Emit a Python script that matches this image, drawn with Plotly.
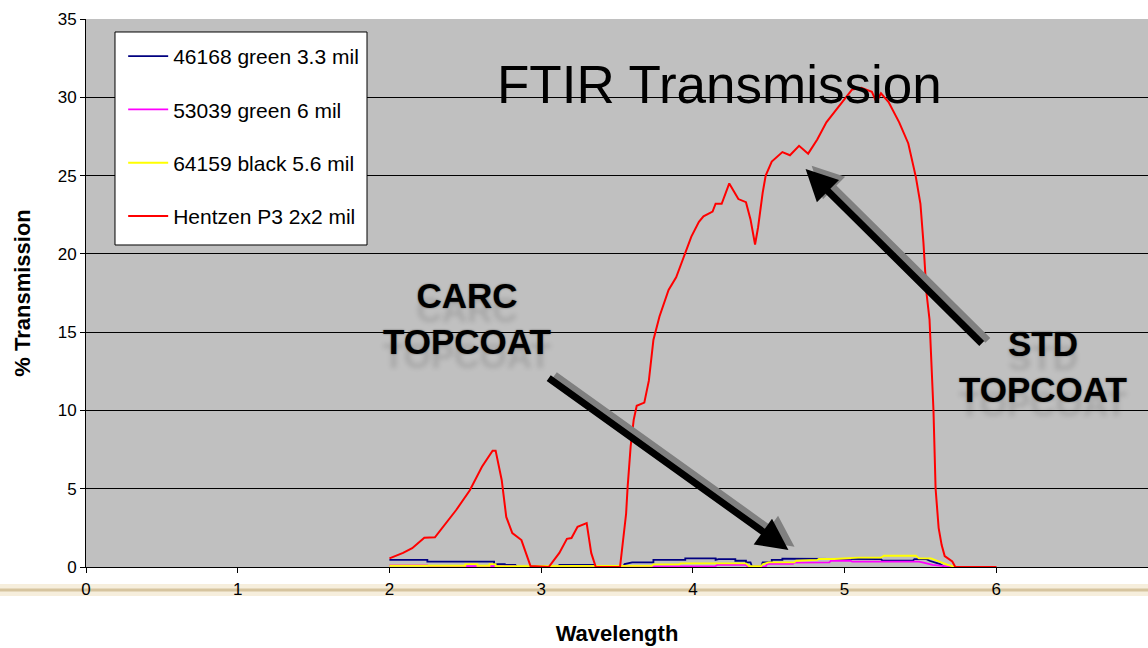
import plotly.graph_objects as go

# ---------------- data ----------------
series_names = ["46168 green 3.3 mil", "53039 green 6 mil", "64159 black 5.6 mil", "Hentzen P3 2x2 mil"]
series_colors = ["#000080", "#FF00FF", "#FFFF00", "#FF0000"]

blue_x = [2.00, 2.25, 2.25, 2.69, 2.69, 2.76, 2.76, 2.83, 2.84, 3.11, 3.12, 3.35, 3.36, 3.54, 3.55, 3.60,
          3.74, 3.74, 3.95, 3.95, 4.15, 4.15, 4.17, 4.28, 4.28, 4.35, 4.35, 4.38, 4.39, 4.45, 4.46, 4.52,
          4.52, 4.59, 4.59, 5.04, 5.05, 5.24, 5.25, 5.45, 5.46, 5.54, 5.56, 5.60, 5.63, 5.66, 6.00]
blue_y = [0.45, 0.45, 0.34, 0.34, 0.19, 0.19, 0.13, 0.13, 0.0, 0.0, 0.13, 0.13, 0.0, 0.0, 0.19, 0.30,
          0.30, 0.45, 0.45, 0.55, 0.55, 0.45, 0.50, 0.50, 0.40, 0.40, 0.30, 0.30, 0.02, 0.02, 0.30, 0.30,
          0.45, 0.45, 0.53, 0.53, 0.50, 0.50, 0.40, 0.40, 0.50, 0.50, 0.40, 0.30, 0.19, 0.0, 0.0]

mag_x = [2.00, 2.25, 2.26, 2.83, 2.84, 3.60, 3.71, 3.72, 4.15, 4.16, 4.35, 4.36, 4.48, 4.49, 4.66,
         4.67, 4.90, 4.91, 5.04, 5.05, 5.49, 5.52, 5.58, 5.66, 5.70, 6.00]
mag_y = [0.10, 0.10, 0.05, 0.05, 0.0, 0.02, 0.02, 0.06, 0.06, 0.13, 0.13, 0.03, 0.03, 0.20, 0.20,
         0.28, 0.30, 0.40, 0.40, 0.34, 0.34, 0.28, 0.13, 0.06, 0.0, 0.0]

yel_x = [2.00, 2.50, 2.50, 2.58, 2.58, 2.66, 2.66, 2.70, 2.70, 3.60, 3.73, 3.74, 3.91, 3.92, 4.35,
         4.37, 4.45, 4.46, 4.50, 4.67, 4.68, 4.82, 4.83, 4.93, 5.09, 5.24, 5.26, 5.47, 5.49, 5.57,
         5.62, 5.68, 5.73, 6.00]
yel_y = [0.08, 0.08, 0.18, 0.18, 0.08, 0.08, 0.18, 0.18, 0.06, 0.06, 0.08, 0.17, 0.17, 0.23, 0.23,
         0.05, 0.05, 0.17, 0.30, 0.30, 0.40, 0.45, 0.51, 0.51, 0.60, 0.60, 0.72, 0.72, 0.55, 0.55,
         0.34, 0.13, 0.0, 0.0]

red_x = [2.00, 2.09, 2.15, 2.23, 2.30, 2.34, 2.44, 2.53, 2.61, 2.68, 2.70, 2.74, 2.77, 2.81, 2.87,
         2.90, 2.93, 3.05, 3.12, 3.17, 3.20, 3.24, 3.29, 3.30, 3.33, 3.36, 3.52, 3.54, 3.56, 3.57,
         3.59, 3.61, 3.63, 3.68, 3.71, 3.74, 3.78, 3.84, 3.89, 3.94, 3.99, 4.04, 4.07, 4.13, 4.15,
         4.19, 4.24, 4.27, 4.30, 4.35, 4.38, 4.41, 4.43, 4.46, 4.48, 4.52, 4.59, 4.64, 4.70, 4.76,
         4.82, 4.88, 4.96, 5.05, 5.11, 5.18, 5.21, 5.24, 5.29, 5.36, 5.42, 5.47, 5.50, 5.52, 5.54,
         5.56, 5.586, 5.60, 5.62, 5.64, 5.66, 5.71, 5.73, 6.00]
red_y = [0.55, 0.90, 1.20, 1.87, 1.90, 2.40, 3.64, 4.90, 6.40, 7.43, 7.43, 5.56, 3.20, 2.17, 1.72,
         0.89, 0.06, 0.0, 0.90, 1.80, 1.85, 2.57, 2.80, 2.80, 0.90, 0.0, 0.0, 1.90, 3.40, 5.10,
         7.70, 9.40, 10.30, 10.50, 11.90, 14.50, 16.00, 17.70, 18.50, 19.80, 21.10, 22.05, 22.40, 22.70, 23.20,
         23.20, 24.50, 24.00, 23.50, 23.30, 22.20, 20.60, 21.70, 23.90, 25.00, 25.90, 26.50, 26.30, 26.90, 26.40,
         27.30, 28.40, 29.40, 30.50, 30.60, 30.35, 29.70, 30.25, 29.70, 28.40, 27.05, 24.90, 23.20, 20.70, 17.50,
         15.80, 10.00, 5.00, 2.50, 1.40, 0.70, 0.35, 0.0, 0.0]

x_ticks = [0, 1, 2, 3, 4, 5, 6, 7]
y_ticks = [0, 5, 10, 15, 20, 25, 30, 35]

chart_title = "FTIR Transmission"
x_title = "Wavelength"
y_title = "% Transmission"
carc_label = "CARC<br>TOPCOAT"
std_label = "STD<br>TOPCOAT"

FONT = "Arial, 'Liberation Sans', sans-serif"

fig = go.Figure()
xs = [blue_x, mag_x, yel_x, red_x]
ys = [blue_y, mag_y, yel_y, red_y]
widths = [1.8, 1.8, 1.8, 2.0]
for i in range(4):
    fig.add_trace(go.Scatter(
        x=xs[i], y=ys[i], mode="lines", name=series_names[i],
        line=dict(color=series_colors[i], width=widths[i]),
        legendgroup="g%d" % i,
    ))

# legend frame (drawn as a shape so its size matches the reference)
fig.add_shape(type="rect", xref="paper", yref="paper", x0=0.0273, x1=0.2646, y0=0.5876, y1=0.9763,
              line=dict(color="#000000", width=1), fillcolor="#FFFFFF", layer="above")

# decorative beige band behind x tick labels
fig.add_shape(type="line", xref="paper", yref="paper", x0=-0.09, x1=1.01, y0=-0.042, y1=-0.042,
              line=dict(color="#F6EEDC", width=12), layer="below")
fig.add_shape(type="line", xref="paper", yref="paper", x0=-0.09, x1=1.01, y0=-0.042, y1=-0.042,
              line=dict(color="#D6C49E", width=3), layer="below")

# title inside plot area
fig.add_annotation(text=chart_title, x=0.5965, y=0.881, xref="paper", yref="paper",
                   xanchor="center", yanchor="middle",
                   showarrow=False, font=dict(family=FONT, size=53, color="#000000"))

shadow = "0px 0px 2px rgba(0,0,0,0.5), 0px 14px 5px rgba(0,0,0,0.13)"
fig.add_annotation(text=carc_label, x=2.51, y=15.9, xref="x", yref="y", showarrow=False,
                   font=dict(family=FONT, size=35, color="#000000", weight="bold", shadow=shadow))
fig.add_annotation(text=std_label, x=6.31, y=12.8, xref="x", yref="y", showarrow=False,
                   font=dict(family=FONT, size=35, color="#000000", weight="bold", shadow=shadow))

# arrows (gray shadow, then black)
arrows = [((4.63, 1.09), (3.04, 12.13)), ((4.743, 25.42), (5.914, 14.18))]
for (hx, hy), (tx, ty) in arrows:
    fig.add_annotation(x=hx + 0.04, y=hy + 0.2, ax=tx + 0.04, ay=ty + 0.2, xref="x", yref="y",
                       axref="x", ayref="y", text="", showarrow=True, arrowhead=2,
                       arrowsize=0.9, arrowwidth=7, arrowcolor="#808080")
    fig.add_annotation(x=hx, y=hy, ax=tx, ay=ty, xref="x", yref="y",
                       axref="x", ayref="y", text="", showarrow=True, arrowhead=2,
                       arrowsize=0.9, arrowwidth=7, arrowcolor="#000000")

fig.update_layout(
    width=1148, height=648,
    margin=dict(l=86, r=0, t=19, b=81, autoexpand=False),
    paper_bgcolor="#FFFFFF",
    plot_bgcolor="#C0C0C0",
    font=dict(family=FONT, size=17, color="#000000"),
    showlegend=True,
    legend=dict(x=0.035, y=0.969, xanchor="left", yanchor="top",
                bgcolor="rgba(0,0,0,0)", borderwidth=0,
                font=dict(family=FONT, size=21, color="#000000"),
                tracegroupgap=23, itemwidth=40),
    xaxis=dict(range=[0, 7], tickvals=x_ticks, ticks="outside", ticklen=5, tickcolor="#000000",
               showline=True, linecolor="#000000", linewidth=1, showgrid=False, zeroline=False,
               automargin=False,
               ticklabelstandoff=2, tickfont=dict(size=17, color="#000000"),
               title=dict(text="<b>" + x_title + "</b>", font=dict(size=22), standoff=27)),
    yaxis=dict(range=[0, 35], tickvals=y_ticks, ticks="outside", ticklen=5, tickcolor="#000000",
               showline=True, linecolor="#000000", linewidth=1, showgrid=True, gridcolor="#000000",
               gridwidth=1, zeroline=False, tickfont=dict(size=17, color="#000000"),
               automargin=False,
               title=dict(text="<b>" + y_title + "</b>", font=dict(size=22), standoff=20)),
)

fig.write_html("out.html", config={"displayModeBar": False},
               post_script="document.body.style.margin='0';document.body.style.overflow='hidden';")
